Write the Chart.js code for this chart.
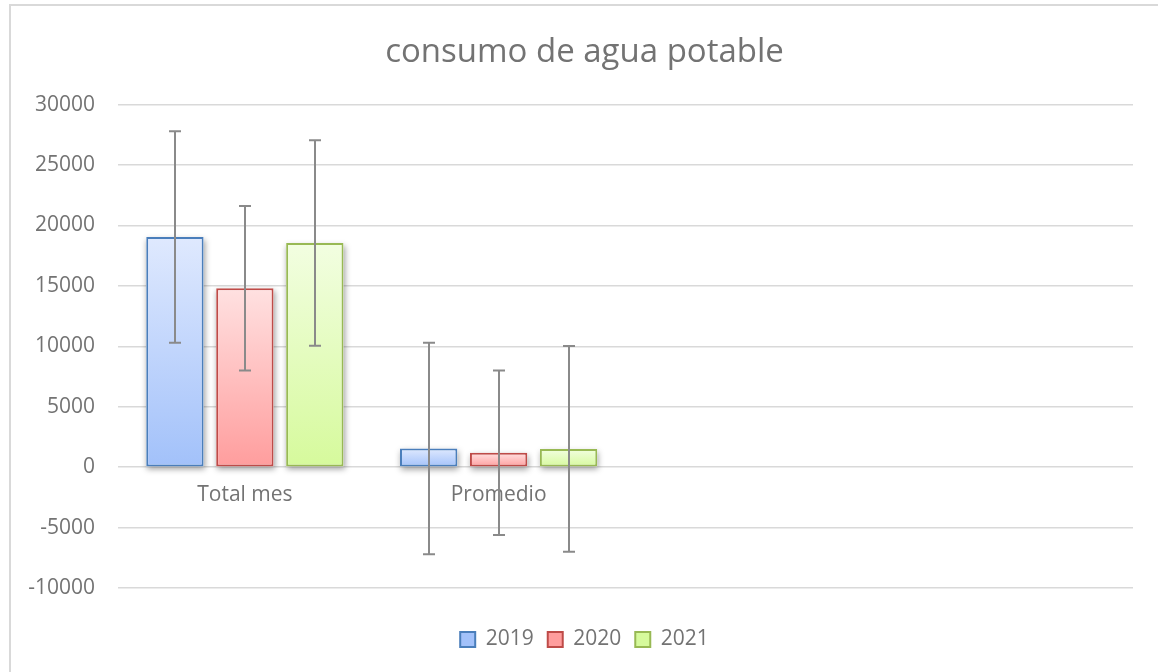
<!DOCTYPE html>
<html>
<head>
<meta charset="utf-8">
<title>consumo de agua potable</title>
<script src="https://cdn.jsdelivr.net/npm/chart.js@4.4.1/dist/chart.umd.min.js"></script>
<style>
  html, body { margin: 0; padding: 0; background: #ffffff; width: 1158px; height: 672px; overflow: hidden; }
  #frame { position: absolute; left: 9px; top: 4px; width: 1300px; height: 800px;
           border-left: 2px solid #d9d9d9; border-top: 2px solid #d9d9d9; }
  #wrap { position: absolute; left: 0; top: 0; width: 1158px; height: 672px; }
</style>
</head>
<body>
<div id="frame"></div>
<div id="wrap"><canvas id="chart" width="1158" height="672"></canvas></div>
<script>
// Categories on the horizontal axis (the last two slots are empty)
const categories = ['Total mes', 'Promedio', '', ''];
const seriesNames = ['2019', '2020', '2021'];

// Water consumption per year
const values2019 = [19040, 1545, null, null];
const values2020 = [14810, 1190, null, null];
const values2021 = [18550, 1510, null, null];

// Error bar half-widths (± amount) per year
const errors2019 = [8745, 8745, null, null];
const errors2020 = [6805, 6805, null, null];
const errors2021 = [8510, 8510, null, null];

// Value axis range
const yMin = -10000;
const yMax = 30000;
const yStep = 5000;

const FONT = "'Open Sans', sans-serif";
const TEXT = '#737373';

// fill colours: [top, bottom] of each bar's gradient, plus border
const palette = [
  { top: '#dfe9fe', bottom: '#a2c1fa', border: '#4a7ebb' },
  { top: '#ffe1e1', bottom: '#ff9d9d', border: '#be4b48' },
  { top: '#f2fee1', bottom: '#d6fa9c', border: '#98b954' }
];

function gradientFill(p) {
  return function (ctx) {
    if (ctx.type !== 'data') return p.top;
    const chart = ctx.chart;
    if (!chart.chartArea) return p.top;
    const y = chart.scales.y;
    const v = ctx.raw;
    if (v === null || v === undefined) return p.top;
    const yTop = y.getPixelForValue(v);
    const yBase = y.getPixelForValue(0);
    if (Math.abs(yBase - yTop) < 1) return p.top;
    const g = chart.ctx.createLinearGradient(0, yTop, 0, yBase);
    g.addColorStop(0, p.top);
    g.addColorStop(1, p.bottom);
    return g;
  };
}

const valueSets = [values2019, values2020, values2021];
const errorSets = [errors2019, errors2020, errors2021];

const datasets = seriesNames.map((name, i) => ({
  label: name,
  data: valueSets[i],
  errors: errorSets[i],
  xAxisID: 'x',
  yAxisID: 'y',
  backgroundColor: gradientFill(palette[i]),
  borderColor: palette[i].border,
  borderWidth: 2,
  borderSkipped: false,
  categoryPercentage: 0.827,
  barPercentage: 0.82
}));

// soft drop shadow behind each bar
const barShadows = {
  id: 'barShadows',
  beforeDatasetsDraw(chart) {
    const ctx = chart.ctx;
    ctx.save();
    ctx.shadowColor = 'rgba(0,0,0,0.38)';
    ctx.shadowBlur = 6;
    ctx.shadowOffsetX = 1;
    ctx.shadowOffsetY = 3;
    ctx.fillStyle = '#ffffff';
    chart.data.datasets.forEach((ds, di) => {
      const meta = chart.getDatasetMeta(di);
      meta.data.forEach((bar, i) => {
        if (ds.data[i] === null) return;
        const top = Math.min(bar.y, bar.base);
        const h = Math.abs(bar.base - bar.y);
        ctx.fillRect(bar.x - bar.width / 2, top, bar.width, h);
      });
    });
    ctx.restore();
  }
};

// vertical error bars with caps
const errorBars = {
  id: 'errorBars',
  afterDatasetsDraw(chart) {
    const ctx = chart.ctx;
    const y = chart.scales.y;
    ctx.save();
    ctx.strokeStyle = '#8a8a8a';
    ctx.lineWidth = 2;
    chart.data.datasets.forEach((ds, di) => {
      const meta = chart.getDatasetMeta(di);
      meta.data.forEach((bar, i) => {
        const v = ds.data[i];
        const e = ds.errors[i];
        if (v === null || e === null) return;
        const x = Math.round(bar.x);
        const y1 = y.getPixelForValue(v + e);
        const y2 = y.getPixelForValue(v - e);
        const cap = 6;
        ctx.beginPath();
        ctx.moveTo(x, y1); ctx.lineTo(x, y2);
        ctx.moveTo(x - cap, y1); ctx.lineTo(x + cap, y1);
        ctx.moveTo(x - cap, y2); ctx.lineTo(x + cap, y2);
        ctx.stroke();
      });
    });
    ctx.restore();
  }
};

new Chart(document.getElementById('chart'), {
  type: 'bar',
  data: { labels: categories, datasets },
  plugins: [barShadows, errorBars],
  options: {
    responsive: false,
    animation: false,
    layout: { padding: { left: 11, right: 0, top: 18, bottom: 12 } },
    plugins: {
      title: {
        display: true,
        text: 'consumo de agua potable',
        color: TEXT,
        font: { family: FONT, size: 33, weight: 'normal' },
        padding: { top: 15, bottom: 32 }
      },
      legend: {
        position: 'bottom',
        labels: {
          color: TEXT,
          font: { family: FONT, size: 21 },
          boxWidth: 15,
          boxHeight: 15,
          padding: 14
        }
      },
      tooltip: { enabled: false }
    },
    scales: {
      x: {
        position: { y: 0 },
        grid: { display: false },
        border: { display: false },
        ticks: { color: TEXT, font: { family: FONT, size: 21 }, padding: 7 }
      },
      y: {
        min: yMin,
        max: yMax,
        grid: { color: '#d9d9d9', lineWidth: 1.5, drawTicks: false },
        border: { display: false },
        ticks: {
          stepSize: yStep,
          color: TEXT,
          font: { family: FONT, size: 21 },
          padding: 23,
          callback: (v) => String(v)
        },
        afterFit(scale) { scale.width = 107; }
      },
      // empty band that keeps room between the plot and the legend
      gapBottom: {
        type: 'category',
        position: 'bottom',
        grid: { display: false },
        border: { display: false },
        ticks: { display: false },
        afterFit(scale) { scale.height = 27; }
      },
      // empty band on the right of the plot
      gapRight: {
        type: 'linear',
        position: 'right',
        grid: { display: false },
        border: { display: false },
        ticks: { display: false },
        afterFit(scale) { scale.width = 25; }
      }
    }
  }
});
</script>
</body>
</html>
